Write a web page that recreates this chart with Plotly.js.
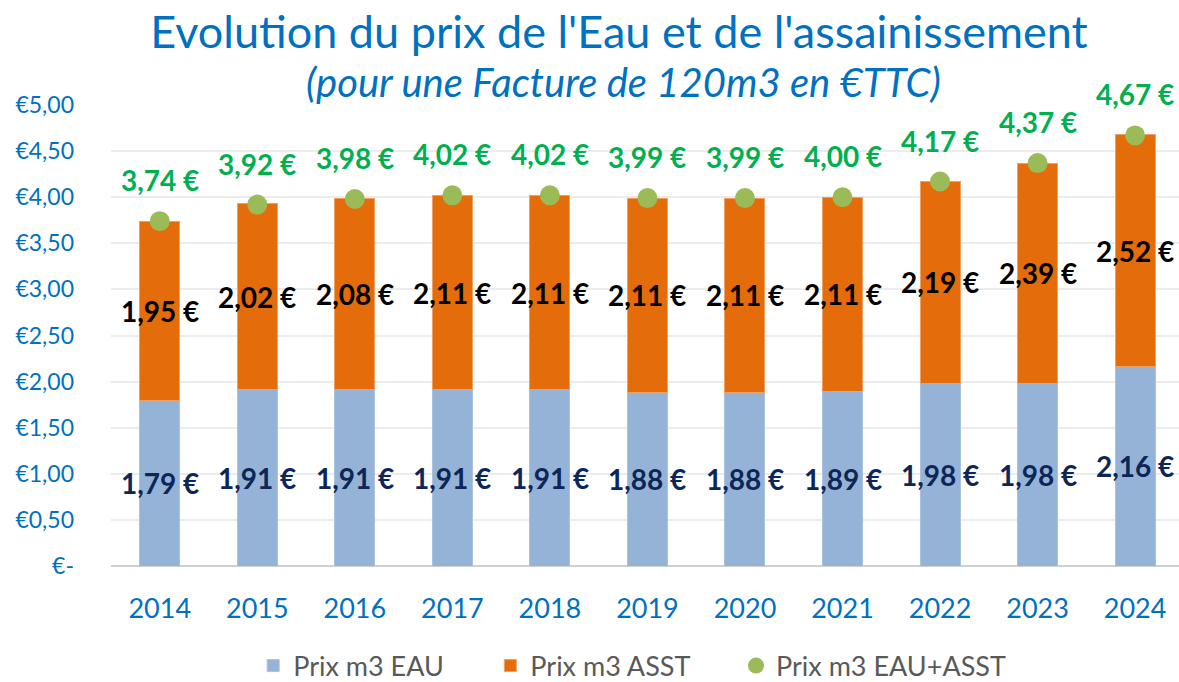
<!DOCTYPE html>
<html><head><meta charset="utf-8">
<script src="https://cdn.plot.ly/plotly-3.0.1.min.js"></script>
<style>html,body{margin:0;padding:0;background:#fff}</style>
</head><body>
<div id="chart" style="width:1179px;height:682px"></div>
<script>
const years = ['2014','2015','2016','2017','2018','2019','2020','2021','2022','2023','2024'];
const prixEau = [1.79,1.91,1.91,1.91,1.91,1.88,1.88,1.89,1.98,1.98,2.16];
const prixAsst = [1.95,2.02,2.08,2.11,2.11,2.11,2.11,2.11,2.19,2.39,2.52];
const prixTotal = [3.74,3.92,3.98,4.02,4.02,3.99,3.99,4.00,4.17,4.37,4.67];
const yTickVals = [0,0.5,1,1.5,2,2.5,3,3.5,4,4.5,5];
const yTickText = ['€-','€0,50','€1,00','€1,50','€2,00','€2,50','€3,00','€3,50','€4,00','€4,50','€5,00'];

const fmt = v => v.toFixed(2).replace('.', ',') + ' €';
const F = 'Lato, "Open Sans", sans-serif';
const pad = '\u00a0\u00a0\u00a0\u00a0\u00a0\u00a0';

const traces = [
  {type:'bar', name:'Prix m3 EAU' + pad, x:years, y:prixEau,
   marker:{color:'#95b3d7', line:{color:'#a9c2df', width:1}}, hoverinfo:'skip'},
  {type:'bar', name:'Prix m3 ASST' + pad, x:years, y:prixAsst,
   marker:{color:'#e46c0a', line:{color:'#f0a060', width:1}}, hoverinfo:'skip'},
  {type:'scatter', mode:'markers', name:'Prix m3 EAU+ASST', x:years, y:prixTotal,
   marker:{color:'#9bbb59', size:20}, cliponaxis:false, hoverinfo:'skip'}
];

const annotations = [];
years.forEach((yr,i)=>{
  annotations.push({x:i, y:prixEau[i]/2, xref:'x', yref:'y', text:'<b>'+fmt(prixEau[i])+'</b>', showarrow:false,
    font:{family:F, size:28, color:'#0d2658'}});
  annotations.push({x:i, y:prixEau[i]+prixAsst[i]/2, xref:'x', yref:'y', text:'<b>'+fmt(prixAsst[i])+'</b>', showarrow:false,
    font:{family:F, size:28, color:'#000000'}});
  annotations.push({x:i, y:prixTotal[i], xref:'x', yref:'y', text:'<b>'+fmt(prixTotal[i])+'</b>', showarrow:false,
    yshift:41, font:{family:F, size:28, color:'#00b050'}});
});
annotations.push({xref:'paper', yref:'paper', x:0.48, y:1, yshift:23, xanchor:'center', yanchor:'middle',
  text:'<i>(pour une Facture de 120m3 en €TTC)</i>', showarrow:false,
  font:{family:F, size:40, color:'#0070c0'}});

const layout = {
  width:1179, height:682,
  margin:{l:111, r:0, t:105, b:116, autoexpand:false},
  paper_bgcolor:'#fff', plot_bgcolor:'#fff',
  barmode:'stack', bargap:0.59,
  title:{text:'Evolution du prix de l\'Eau et de l\'assainissement', x:0.525, xanchor:'center', y:0.953, yanchor:'middle',
    font:{family:F, size:45, color:'#0070c0'}},
  xaxis:{type:'category', range:[-0.5,10.45], tickfont:{family:F, size:27, color:'#0070c0'},
    showgrid:false, showline:false, ticks:'', ticklabelstandoff:24, automargin:false},
  yaxis:{range:[0,5], tickvals:yTickVals, ticktext:yTickText, showgrid:true, gridcolor:'#ececec', gridwidth:2,
    zeroline:true, zerolinecolor:'#cfcfcf', zerolinewidth:2, ticks:'', ticklabelstandoff:36, automargin:false,
    tickfont:{family:F, size:23, color:'#0070c0'}},
  legend:{orientation:'h', x:0.488, xanchor:'center', y:-0.217, yanchor:'middle',
    font:{family:F, size:27, color:'#595959'}, itemwidth:30, traceorder:'normal'},
  annotations:annotations,
  showlegend:true
};
Plotly.newPlot('chart', traces, layout, {displayModeBar:false, staticPlot:true});
</script>
</body></html>
